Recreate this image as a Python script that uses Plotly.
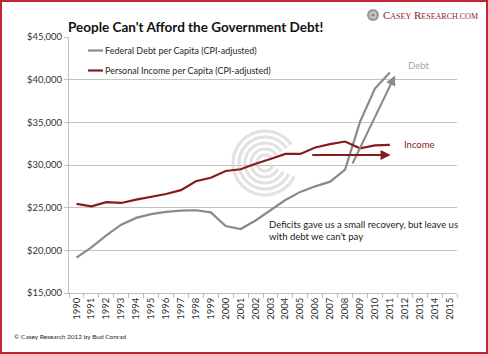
import math
import plotly.graph_objects as go

# ---------------- data ----------------
years = [str(y) for y in range(1990, 2016)]
data_years = [str(y) for y in range(1990, 2012)]
debt_per_capita = [19150, 20350, 21750, 23000, 23800, 24250, 24500, 24650, 24700, 24450,
                   22850, 22500, 23500, 24650, 25900, 26850, 27500, 28050, 29450, 35050,
                   38950, 40850]
income_per_capita = [25450, 25150, 25650, 25550, 25950, 26250, 26600, 27050, 28100, 28500,
                     29300, 29500, 30150, 30700, 31300, 31300, 32050, 32450, 32750, 31950,
                     32300, 32350]
y_ticks = [15000, 20000, 25000, 30000, 35000, 40000, 45000]
y_tick_text = ["$15,000", "$20,000", "$25,000", "$30,000", "$35,000", "$40,000", "$45,000"]

# arrows (category index, value)
debt_arrow = (18.45, 30000, 21.35, 40500)
income_arrow = (15.7, 31170, 21.05, 31170)

DEBT_C = "#8a8a8a"
INC_C = "#861c1c"
FONT = "Lato"

W, H = 488, 354
L, R, T, B = 69, 31, 37, 61
PW, PH = W - L - R, H - T - B


def px(x):
    return (x - L) / PW


def py(y):
    return (H - B - y) / PH


fig = go.Figure()
fig.add_trace(go.Scatter(x=data_years, y=debt_per_capita, mode="lines",
                         line=dict(color=DEBT_C, width=2.2),
                         name="Federal Debt per Capita (CPI-adjusted)", showlegend=False))
fig.add_trace(go.Scatter(x=data_years, y=income_per_capita, mode="lines",
                         line=dict(color=INC_C, width=2.2),
                         name="Personal Income per Capita (CPI-adjusted)", showlegend=False))

shapes = []
annotations = []

# watermark spiral rings
cx, cy = 265, 163
for r in [8, 14, 20, 26, 32]:
    pts = []
    for k in range(0, 61):
        a = math.radians(35 + 300 * k / 60)
        pts.append((px(cx + r * math.cos(a)), py(cy - r * math.sin(a))))
    path = "M " + " L ".join(f"{a:.5f},{b:.5f}" for a, b in pts)
    shapes.append(dict(type="path", xref="paper", yref="paper", path=path,
                       line=dict(color="#e2e2e2", width=3.2), layer="below"))

# border
shapes.append(dict(type="rect", xref="paper", yref="paper",
                   x0=px(1), x1=px(W - 1), y0=py(H - 1), y1=py(1),
                   line=dict(color="#c0282d", width=2)))

# legend samples
shapes.append(dict(type="line", xref="paper", yref="paper", x0=px(88), x1=px(103),
                   y0=py(50.5), y1=py(50.5), line=dict(color=DEBT_C, width=2.2)))
shapes.append(dict(type="line", xref="paper", yref="paper", x0=px(88), x1=px(103),
                   y0=py(70.5), y1=py(70.5), line=dict(color=INC_C, width=2.2)))
annotations.append(dict(xref="paper", yref="paper", x=px(103), y=py(50.5), xanchor="left",
                        yanchor="middle", showarrow=False,
                        text="Federal Debt per Capita (CPI-adjusted)",
                        font=dict(family=FONT, size=9, color="#262626")))
annotations.append(dict(xref="paper", yref="paper", x=px(103), y=py(70.5), xanchor="left",
                        yanchor="middle", showarrow=False,
                        text="Personal Income per Capita (CPI-adjusted)",
                        font=dict(family=FONT, size=9, color="#262626")))

# logo icon
for r, c in [(6, "#9a9a9a"), (3.5, "#cfcfcf"), (1.8, "#8a8a8a")]:
    shapes.append(dict(type="circle", xref="paper", yref="paper",
                       x0=px(373 - r), x1=px(373 + r), y0=py(15 + r), y1=py(15 - r),
                       fillcolor=c, line=dict(width=0)))

# arrows
annotations.append(dict(x=debt_arrow[2], y=debt_arrow[3], ax=debt_arrow[0], ay=debt_arrow[1],
                        xref="x", yref="y", axref="x", ayref="y", text="", showarrow=True,
                        arrowhead=2, arrowsize=1, arrowwidth=2, arrowcolor=DEBT_C))
annotations.append(dict(x=income_arrow[2], y=income_arrow[3], ax=income_arrow[0], ay=income_arrow[1],
                        xref="x", yref="y", axref="x", ayref="y", text="", showarrow=True,
                        arrowhead=2, arrowsize=1, arrowwidth=2, arrowcolor=INC_C))

# labels
annotations.append(dict(xref="paper", yref="paper", x=px(406), y=py(65), xanchor="left",
                        yanchor="middle", showarrow=False, text="Debt",
                        font=dict(family=FONT, size=9.5, color="#a6a6a6")))
annotations.append(dict(xref="paper", yref="paper", x=px(402), y=py(144.5), xanchor="left",
                        yanchor="middle", showarrow=False, text="Income",
                        font=dict(family=FONT, size=9.5, color=INC_C)))
annotations.append(dict(xref="paper", yref="paper", x=px(267), y=py(230), xanchor="left",
                        yanchor="middle", showarrow=False, align="left",
                        text="Deficits gave us a small recovery, but leave us<br>with debt we can't pay",
                        font=dict(family=FONT, size=9.5, color="#1a1a1a")))
# title
annotations.append(dict(xref="paper", yref="paper", x=px(66), y=py(27), xanchor="left",
                        yanchor="middle", showarrow=False,
                        text="<b>People Can't Afford the Government Debt!</b>",
                        font=dict(family=FONT, size=13.5, color="#111111")))
# logo text
annotations.append(dict(xref="paper", yref="paper", x=px(381), y=py(15), xanchor="left",
                        yanchor="middle", showarrow=False,
                        text="C<span style='font-size:8px'>ASEY</span> R<span style='font-size:8px'>ESEARCH.COM</span>",
                        font=dict(family="Liberation Serif", size=11, color="#8c1c1c")))
# footer
annotations.append(dict(xref="paper", yref="paper", x=px(12), y=py(336), xanchor="left",
                        yanchor="middle", showarrow=False,
                        text="© Casey Research 2012 by Bud Conrad",
                        font=dict(family=FONT, size=6.5, color="#262626")))

fig.update_layout(
    width=W, height=H,
    margin=dict(l=L, r=R, t=T, b=B),
    paper_bgcolor="white", plot_bgcolor="white",
    showlegend=False,
    shapes=shapes, annotations=annotations,
    xaxis=dict(type="category", categoryorder="array", categoryarray=years,
               tickmode="array", tickvals=years, ticktext=years,
               range=[-0.5, len(years) - 0.5], tickson="boundaries",
               ticks="outside", ticklen=4, tickcolor="#bfbfbf",
               showline=True, linecolor="#bfbfbf", linewidth=1,
               showgrid=False, tickangle=-90,
               tickfont=dict(family=FONT, size=9.5, color="#333333")),
    yaxis=dict(range=[15000, 45000], tickvals=y_ticks, ticktext=y_tick_text,
               showgrid=True, gridcolor="#c4c4c4", gridwidth=1,
               ticks="outside", ticklen=4, tickcolor="#bfbfbf",
               showline=True, linecolor="#bfbfbf", linewidth=1, zeroline=False,
               tickfont=dict(family=FONT, size=9.5, color="#333333")),
)

fig.write_html("out.html")
